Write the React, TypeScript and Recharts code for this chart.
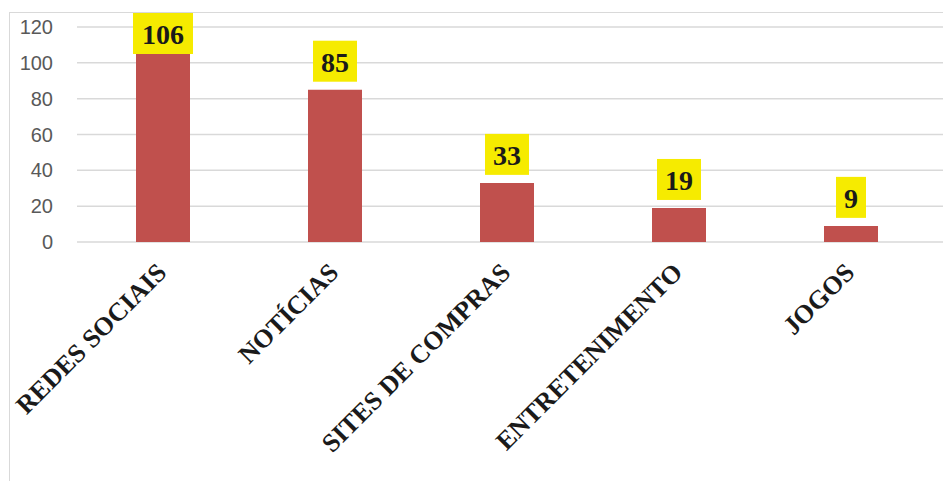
import React from 'react';
import { BarChart, Bar, XAxis, YAxis, CartesianGrid, LabelList } from 'recharts';

const categories = ['REDES SOCIAIS', 'NOTÍCIAS', 'SITES DE COMPRAS', 'ENTRETENIMENTO', 'JOGOS'];
const values = [106, 85, 33, 19, 9];
const yTicks = [0, 20, 40, 60, 80, 100, 120];

const data = categories.map((c, i) => ({ name: c, value: values[i] }));

const BAR_COLOR = '#C0504D';
const LABEL_BG = '#F6EB00';
const GRID = '#D9D9D9';

const YTick = (props: any) => {
  const { y, payload } = props;
  return (
    <text x={53} y={y} textAnchor="end" dominantBaseline="central" fill="#595959"
      style={{ fontFamily: '"Liberation Sans", Arial, sans-serif', fontSize: 20 }}>
      {payload.value}
    </text>
  );
};

const XTick = (props: any) => {
  const { x, y, payload } = props;
  return (
    <g transform={`translate(${x + 5},${y + 32})`}>
      <text x={0} y={0} textAnchor="end" transform="rotate(-45)" fill="#1a1a1a"
        style={{ fontFamily: '"Liberation Serif", "Times New Roman", serif', fontSize: 26, fontWeight: 'bold' }}>
        {payload.value}
      </text>
    </g>
  );
};

const ValueLabel = (props: any) => {
  const { x, y, width, value } = props;
  const s = String(value);
  const boxW = s.length * 14 + 16 + (s.length >= 3 ? 2 : 0);
  const boxH = 41;
  const cx = x + width / 2;
  const top = Math.max(13, y - 8 - boxH);
  return (
    <g>
      <rect x={cx - boxW / 2} y={top} width={boxW} height={boxH} fill={LABEL_BG} />
      <text x={cx} y={top + 31} textAnchor="middle" fill="#1a1a1a"
        style={{ fontFamily: '"Liberation Serif", "Times New Roman", serif', fontSize: 28, fontWeight: 'bold' }}>
        {s}
      </text>
    </g>
  );
};

export default function App() {
  return (
    <div style={{ position: 'absolute', left: 0, top: 0, width: 943, height: 481, overflow: 'hidden', background: '#fff' }}>
      <div style={{ position: 'absolute', left: 9, top: 12, width: 1200, height: 800, border: `1.5px solid ${GRID}` }} />
      <div style={{ position: 'absolute', left: 0, top: 0 }}>
        <BarChart width={943} height={481} data={data} margin={{ top: 27, right: 0, left: 0, bottom: 0 }}>
          <CartesianGrid vertical={false} stroke={GRID} strokeWidth={1.5} />
          <XAxis dataKey="name" height={239} axisLine={false} tickLine={false} tickSize={0} tickMargin={0}
            interval={0} padding={{ left: 0, right: 6 }} tick={<XTick />} />
          <YAxis width={77} domain={[0, 120]} ticks={yTicks} axisLine={false} tickLine={false} tick={<YTick />} />
          <Bar dataKey="value" fill={BAR_COLOR} barSize={54} isAnimationActive={false}>
            <LabelList dataKey="value" content={<ValueLabel />} />
          </Bar>
        </BarChart>
      </div>
    </div>
  );
}
